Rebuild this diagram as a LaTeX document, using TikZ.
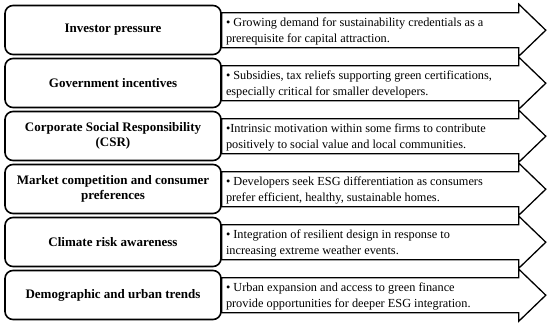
\documentclass[tikz,border=0pt]{standalone}
\usepackage{fontspec}
\setmainfont{Liberation Serif}
\usepackage{tikz}

% arrow with the description, hung on the right of a driver box
\newcommand{\esgarrow}[1]{%
  \draw[arrowline] ([yshift=-8pt]#1.north east) -- ++(297,0) -- ++(0,8.5)
    -- ++(27,-26) -- ++(-27,-26) -- ++(0,8.5) -- ++(-297,0) -- cycle;}

\begin{document}
\begin{tikzpicture}[x=1pt,y=1pt,
    driver/.style={draw, line width=1.6pt, rounded corners=8pt, minimum width=216pt,
      minimum height=49pt, align=center, inner sep=2pt,
      font=\fontsize{13}{15}\selectfont\bfseries},
    point/.style={anchor=west, align=left, inner sep=0pt,
      font=\fontsize{12.3}{16}\selectfont},
    arrowline/.style={draw, line width=1.3pt, fill=white, line join=miter}]
    \useasboundingbox (0,0) rectangle (550,-326);
    % Drivers
    \node[driver] (inv) at (113,-30) {Investor pressure};
    \node[driver] (gov) at (113,-83) {Government incentives};
    \node[driver] (csr) at (113,-136) {Corporate Social Responsibility\\(CSR)};
    \node[driver] (mkt) at (113,-189) {Market competition and consumer\\preferences};
    \node[driver] (clim) at (113,-242) {Climate risk awareness};
    \node[driver] (demo) at (113,-295) {Demographic and urban trends};
    % Arrows
    \esgarrow{inv}
    \esgarrow{gov}
    \esgarrow{csr}
    \esgarrow{mkt}
    \esgarrow{clim}
    \esgarrow{demo}
    % Descriptions
    \node[point] (inv-p) at ([xshift=4pt,yshift=-1pt]inv.east)
      {\textbullet\ Growing demand for sustainability credentials as a\\prerequisite for capital attraction.};
    \node[point] (gov-p) at ([xshift=4pt,yshift=-1pt]gov.east)
      {\textbullet\ Subsidies, tax reliefs supporting green certifications,\\especially critical for smaller developers.};
    \node[point] (csr-p) at ([xshift=4pt,yshift=-1pt]csr.east)
      {\textbullet Intrinsic motivation within some firms to contribute\\positively to social value and local communities.};
    \node[point] (mkt-p) at ([xshift=4pt,yshift=-1pt]mkt.east)
      {\textbullet\ Developers seek ESG differentiation as consumers\\prefer efficient, healthy, sustainable homes.};
    \node[point] (clim-p) at ([xshift=4pt,yshift=-1pt]clim.east)
      {\textbullet\ Integration of resilient design in response to\\increasing extreme weather events.};
    \node[point] (demo-p) at ([xshift=4pt,yshift=-1pt]demo.east)
      {\textbullet\ Urban expansion and access to green finance\\provide opportunities for deeper ESG integration.};
\end{tikzpicture}
\end{document}
